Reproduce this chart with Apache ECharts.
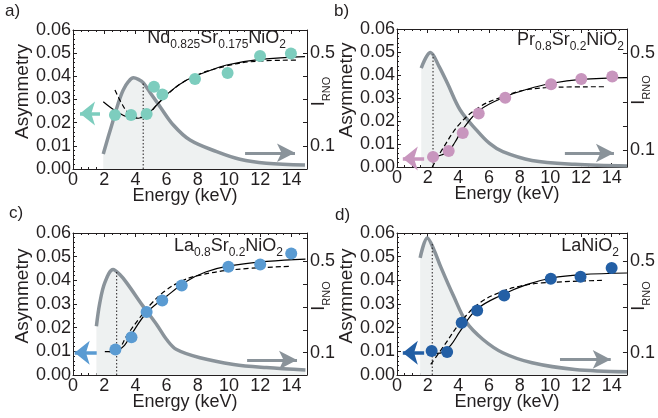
<!DOCTYPE html>
<html><head><meta charset="utf-8">
<script src="https://cdn.jsdelivr.net/npm/echarts@6/dist/echarts.min.js"></script>
<style>html,body{margin:0;padding:0;background:#fff}#c{width:658px;height:418px}</style>
</head><body><div id="c"></div>
<script>
// ---------- data ----------
const energyTicks = [0, 2, 4, 6, 8, 10, 12, 14];
const asymTicks = [0, 0.01, 0.02, 0.03, 0.04, 0.05, 0.06];
const rnoLabels = [0.1, 0.5];
const rnoTicks = [0.1, 0.2, 0.3, 0.4, 0.5, 0.6];

// a) Nd0.825Sr0.175NiO2
const aDotE = [2.69, 3.72, 4.72, 5.19, 5.73, 7.82, 9.91, 11.99, 13.97];
const aDotA = [0.0233, 0.0233, 0.0237, 0.0355, 0.0322, 0.0388, 0.0414, 0.0488, 0.0499];
const aFitE = [1.94, 2.8, 3.55, 4.19, 4.72, 5.36, 6.22, 7.29, 8.57, 9.85, 12.0, 14.87];
const aFitA = [0.029, 0.0247, 0.0223, 0.0219, 0.0233, 0.0276, 0.0334, 0.0384, 0.042, 0.0449, 0.0473, 0.0485];
const aDashE = [2.69, 3.12, 3.55, 3.87, 4.29, 4.8, 5.36, 7.29, 9.85, 12.0, 14.3];
const aDashA = [0.0341, 0.0283, 0.024, 0.0226, 0.0223, 0.023, 0.0276, 0.0384, 0.0445, 0.0466, 0.047];
const aRnoE = [1.94, 2.26, 2.58, 2.9, 3.22, 3.55, 3.87, 4.19, 4.51, 5.04, 5.58, 6.43, 7.5, 9.21, 10.7, 12.4, 14.87];
const aRno = [0.065, 0.139, 0.211, 0.284, 0.341, 0.377, 0.394, 0.387, 0.372, 0.32, 0.269, 0.19, 0.125, 0.075, 0.042, 0.025, 0.017];
const aPeak = [4.5, 0.372];

// b) Pr0.8Sr0.2NiO2
const bDotE = [2.35, 3.37, 4.29, 5.33, 7.06, 10.05, 12.02, 14.04];
const bDotA = [0.0044, 0.007, 0.0148, 0.0233, 0.0301, 0.036, 0.0383, 0.0393];
const bFitE = [2.09, 2.6, 3.0, 3.37, 3.8, 4.33, 5.4, 7.08, 8.5, 10.1, 12.0, 15.0];
const bFitA = [0.0044, 0.0046, 0.0055, 0.0068, 0.011, 0.0168, 0.0248, 0.0306, 0.0338, 0.0364, 0.0381, 0.0389];
const bDashE = [2.3, 3.05, 4.12, 5.4, 6.9, 8.39, 10.5, 13.5];
const bDashA = [0.0, 0.0087, 0.019, 0.0262, 0.0306, 0.0335, 0.0347, 0.0349];
const bRnoE = [1.58, 2.18, 2.75, 3.29, 4.12, 5.19, 6.04, 6.9, 8.8, 11.6, 15.0];
const bRno = [0.439, 0.503, 0.445, 0.376, 0.266, 0.183, 0.128, 0.094, 0.058, 0.042, 0.035];
const bPeak = [2.35, 0.495];

// c) La0.8Sr0.2NiO2
const cDotE = [2.72, 3.75, 4.72, 5.72, 6.97, 9.96, 12.0, 13.99];
const cDotA = [0.0108, 0.016, 0.0266, 0.0315, 0.0378, 0.0457, 0.0467, 0.0513];
const cFitE = [2.04, 2.5, 2.9, 3.3, 3.75, 4.72, 6.0, 7.29, 8.5, 9.85, 12.43, 14.9];
const cFitA = [0.0099, 0.0099, 0.0105, 0.0125, 0.0172, 0.0263, 0.0333, 0.0396, 0.0435, 0.0459, 0.048, 0.049];
const cDashE = [2.3, 2.9, 3.43, 4.2, 5.0, 5.9, 6.9, 8.0, 10.3, 13.9];
const cDashA = [0.0099, 0.0108, 0.0164, 0.0235, 0.03, 0.0355, 0.0395, 0.042, 0.0445, 0.0459];
const cRnoE = [1.5, 1.72, 2.04, 2.57, 3.0, 3.43, 4.5, 5.36, 6.0, 6.64, 8.14, 10.3, 12.4, 14.9];
const cRno = [0.216, 0.319, 0.407, 0.464, 0.442, 0.407, 0.303, 0.224, 0.158, 0.114, 0.078, 0.049, 0.035, 0.024];
const cPeak = [2.8, 0.458];

// d) LaNiO2
const dDotE = [2.26, 3.27, 4.22, 5.23, 6.99, 10.03, 11.97, 14.0];
const dDotA = [0.0101, 0.0097, 0.0221, 0.0273, 0.0336, 0.0407, 0.0415, 0.0452];
const dFitE = [2.1, 2.6, 3.0, 3.5, 4.12, 5.19, 6.9, 8.5, 10.1, 12.0, 15.0];
const dFitA = [0.0091, 0.0091, 0.0097, 0.0125, 0.0185, 0.0277, 0.034, 0.0383, 0.041, 0.0424, 0.0431];
const dDashE = [2.2, 3.05, 4.12, 5.4, 6.9, 8.0, 9.45, 13.4];
const dDashA = [0.0045, 0.0122, 0.0221, 0.0305, 0.0354, 0.0375, 0.0389, 0.04];
const dRnoE = [1.51, 1.98, 2.4, 2.84, 3.69, 4.54, 5.61, 6.9, 8.81, 11.6, 15.0];
const dRno = [0.515, 0.602, 0.552, 0.478, 0.348, 0.232, 0.158, 0.1, 0.056, 0.027, 0.017];
const dPeak = [2.3, 0.583];

// ---------- layout / style ----------
const FONT = 'Liberation Sans';
const TXT = '#231f20';
const GREY = '#8a939a';
const FILL = '#eef1f1';
const zip = (xs, ys) => xs.map((x, i) => [x, ys[i]]);

const panels = [
  {grid: {left: 73, top: 30, width: 234, height: 139}, color: '#7dcdbe', rnoMin: 0, rnoMax: 0.6,
   dots: zip(aDotE, aDotA), fit: zip(aFitE, aFitA), dash: zip(aDashE, aDashA), rno: zip(aRnoE, aRno), peak: aPeak,
   arrowL: {from: 1.73, to: 0.45, y: 0.024}, arrowR: {from: 11.03, to: 14.23, y: 0.007}},
  {grid: {left: 397, top: 29, width: 234, height: 138}, color: '#c896be', rnoMin: 0.031, rnoMax: 0.6,
   dots: zip(bDotE, bDotA), fit: zip(bFitE, bFitA), dash: zip(bDashE, bDashA), rno: zip(bRnoE, bRno), peak: bPeak,
   arrowL: {from: 1.77, to: 0.38, y: 0.0037}, arrowR: {from: 10.95, to: 14.15, y: 0.0061}},
  {grid: {left: 73, top: 233, width: 234, height: 142}, color: '#5a9bd2', rnoMin: 0.0026, rnoMax: 0.624,
   dots: zip(cDotE, cDotA), fit: zip(cFitE, cFitA), dash: zip(cDashE, cDashA), rno: zip(cRnoE, cRno), peak: cPeak,
   arrowL: {from: 1.52, to: 0.11, y: 0.0094}, arrowR: {from: 11.16, to: 14.36, y: 0.0063}},
  {grid: {left: 397, top: 233, width: 234, height: 142}, color: '#235fa5', rnoMin: 0.0026, rnoMax: 0.624,
   dots: zip(dDotE, dDotA), fit: zip(dFitE, dFitA), dash: zip(dDashE, dDashA), rno: zip(dRnoE, dRno), peak: dPeak,
   arrowL: {from: 1.77, to: 0.38, y: 0.0094}, arrowR: {from: 10.63, to: 13.94, y: 0.0066}}
];

const label = {fontFamily: FONT, fontSize: 18, color: TXT, fontWeight: 'normal'};
const grid = [], xAxis = [], yAxis = [], series = [];
panels.forEach((p, i) => {
  grid.push(Object.assign({containLabel: false}, p.grid));
  const axLine = {show: true, onZero: false, lineStyle: {color: TXT, width: 1}};
  xAxis.push({gridIndex: i, type: 'value', min: 0, max: 15, interval: 2, position: 'bottom',
    axisLine: axLine, axisTick: {inside: true, length: 4, lineStyle: {color: TXT}},
    minorTick: {show: true, splitNumber: 4, length: 2, lineStyle: {color: TXT}},
    axisLabel: Object.assign({margin: 2, showMaxLabel: false}, label),
    splitLine: {show: false}, minorSplitLine: {show: false}, nameMoveOverlap: false,
    name: 'Energy (keV)', nameLocation: 'middle', nameGap: 18,
    nameTextStyle: Object.assign({padding: [0, 10, 0, 0]}, label)});
  xAxis.push({gridIndex: i, type: 'value', min: 0, max: 15, interval: 2, position: 'top',
    axisLine: axLine, axisTick: {inside: true, length: 4, lineStyle: {color: TXT}},
    minorTick: {show: true, splitNumber: 4, length: 2, lineStyle: {color: TXT}},
    axisLabel: {show: false}, splitLine: {show: false}});
  yAxis.push({gridIndex: i, type: 'value', min: 0, max: 0.06, interval: 0.01, position: 'left',
    axisLine: axLine, axisTick: {inside: true, length: 4, lineStyle: {color: TXT}},
    minorTick: {show: true, splitNumber: 5, length: 2, lineStyle: {color: TXT}},
    axisLabel: Object.assign({margin: 2, formatter: v => asymTicks.some(t => Math.abs(t - v) < 1e-9) ? v.toFixed(2) : ''}, label),
    splitLine: {show: false}, nameMoveOverlap: false,
    name: 'Asymmetry', nameLocation: 'middle', nameRotate: 90, nameGap: 41,
    nameTextStyle: Object.assign({}, label, {fontSize: 19, padding: [0, 0, 0, 16]})});
  yAxis.push({gridIndex: i, type: 'value', min: p.rnoMin, max: p.rnoMax, position: 'right',
    axisLine: axLine, axisTick: {inside: true, length: 4, lineStyle: {color: TXT}, customValues: rnoTicks.filter(v => v <= p.rnoMax)},
    axisLabel: Object.assign({margin: 3, customValues: rnoLabels, formatter: v => String(v)}, label),
    splitLine: {show: false}, nameMoveOverlap: false,
    name: '{m|I}{s|RNO}', nameLocation: 'middle', nameRotate: 90, nameGap: 3,
    nameTextStyle: {fontFamily: FONT, color: TXT, padding: [0, 0, 0, 16], rich: {
      m: {fontFamily: FONT, fontSize: 18, color: TXT, lineHeight: 18, verticalAlign: 'top'},
      s: {fontFamily: FONT, fontSize: 11, color: TXT, lineHeight: 11, verticalAlign: 'top', padding: [11, 0, 0, 0]}}}});
  const xi = 2 * i, yl = 2 * i, yr = 2 * i + 1;
  series.push({type: 'line', xAxisIndex: xi, yAxisIndex: yr, data: p.rno, smooth: 0.35, showSymbol: false,
    lineStyle: {color: GREY, width: 3.5}, areaStyle: {color: FILL, opacity: 1}, z: 1, silent: true});
  series.push({type: 'line', xAxisIndex: xi, yAxisIndex: yr, data: [[p.peak[0], p.rnoMin], p.peak], showSymbol: false,
    lineStyle: {color: TXT, width: 1, type: [1.5, 2]}, z: 2, silent: true});
  series.push({type: 'line', xAxisIndex: xi, yAxisIndex: yl, data: p.fit, smooth: 0.4, showSymbol: false,
    lineStyle: {color: '#000', width: 1.2}, z: 3, silent: true});
  series.push({type: 'line', xAxisIndex: xi, yAxisIndex: yl, data: p.dash, smooth: 0.4, showSymbol: false,
    lineStyle: {color: '#000', width: 1.2, type: [5, 3]}, z: 3, silent: true});
  series.push({type: 'scatter', xAxisIndex: xi, yAxisIndex: yl, data: p.dots, symbolSize: 12,
    itemStyle: {color: p.color, opacity: 1}, z: 4, silent: true,
    markLine: {silent: true, animation: false, label: {show: false}, symbol: ['none', 'arrow'],
      data: [
        [{coord: [p.arrowL.from, p.arrowL.y], lineStyle: {color: p.color, width: 3.5, type: 'solid'}},
         {coord: [p.arrowL.to, p.arrowL.y], symbolSize: [18, 15]}],
        [{coord: [p.arrowR.from, p.arrowR.y], lineStyle: {color: GREY, width: 3, type: 'solid'}},
         {coord: [p.arrowR.to, p.arrowR.y], symbolSize: [14, 18]}]
      ]}});
});

const sub = {fontFamily: FONT, fontSize: 12, color: TXT, fontWeight: 'normal', lineHeight: 12, verticalAlign: 'top', padding: [10, 0, 0, 0]};
const main = {fontFamily: FONT, fontSize: 18, color: TXT, fontWeight: 'normal', lineHeight: 18, verticalAlign: 'top'};
const rich = {m: main, s: sub};
const letter = {fontFamily: FONT, fontSize: 17, color: TXT, fontWeight: 'normal'};
const title = [
  {text: 'a)', left: 5, top: 3, padding: 0, textStyle: letter},
  {text: 'b)', left: 334, top: 3, padding: 0, textStyle: letter},
  {text: 'c)', left: 9, top: 205, padding: 0, textStyle: letter},
  {text: 'd)', left: 335, top: 207, padding: 0, textStyle: letter},
  {text: '{m|Nd}{s|0.825}{m|Sr}{s|0.175}{m|NiO}{s|2}', right: 372, top: 29, padding: 0, textStyle: {fontWeight: 'normal', rich}},
  {text: '{m|Pr}{s|0.8}{m|Sr}{s|0.2}{m|NiO}{s|2}', right: 34, top: 31, padding: 0, textStyle: {fontWeight: 'normal', rich}},
  {text: '{m|La}{s|0.8}{m|Sr}{s|0.2}{m|NiO}{s|2}', right: 375, top: 237, padding: 0, textStyle: {fontWeight: 'normal', rich}},
  {text: '{m|LaNiO}{s|2}', right: 39, top: 237, padding: 0, textStyle: {fontWeight: 'normal', rich}}
];

const chart = echarts.init(document.getElementById('c'), null, {renderer: 'canvas'});
chart.setOption({animation: false, backgroundColor: '#fff', title, grid, xAxis, yAxis, series});
</script>
</body></html>
